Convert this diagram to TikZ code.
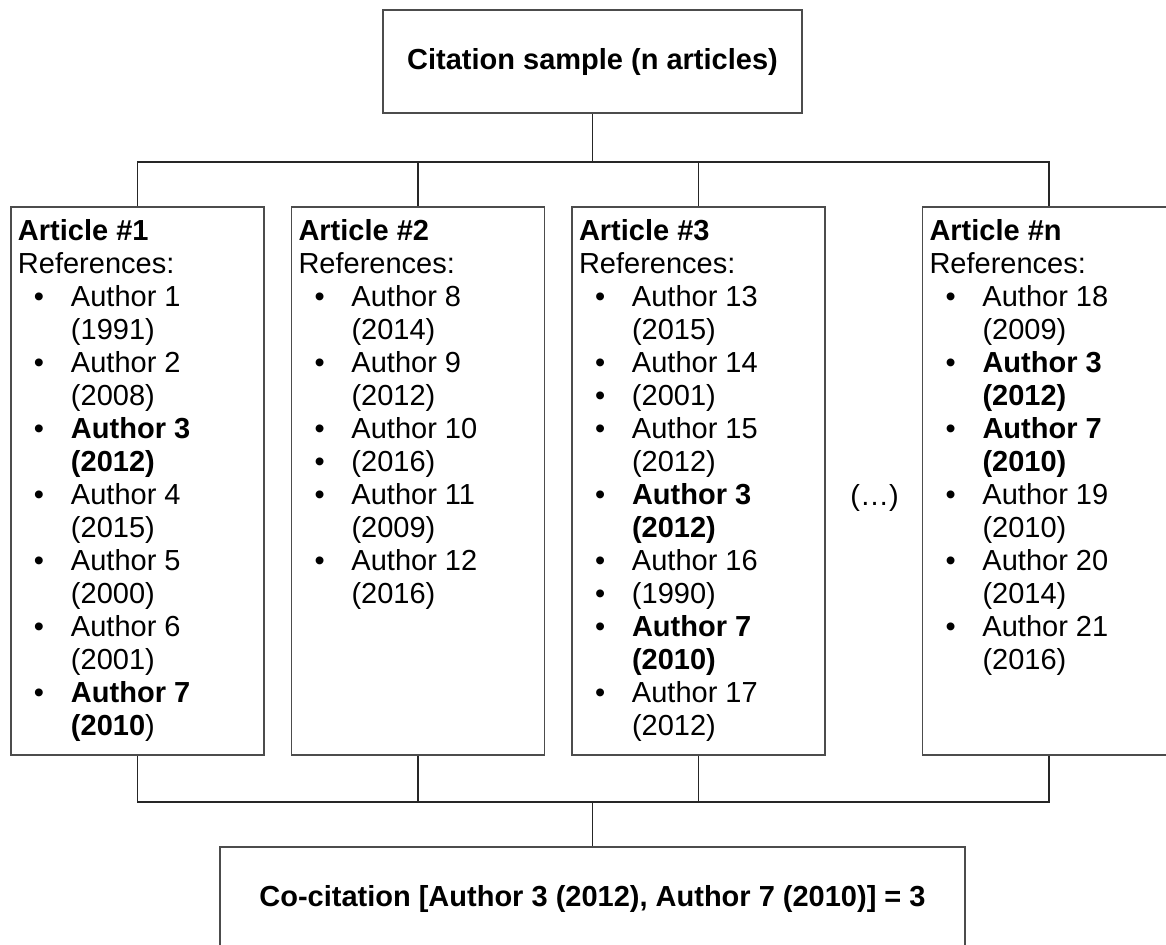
\documentclass[tikz,border=0pt]{standalone}
\usepackage{fontspec}
\setmainfont{Liberation Sans}
\usetikzlibrary{positioning}

% one line of a reference list: bulleted, or continued under the text
\newcommand\head[1]{\rule{0pt}{16.5pt}\textbf{#1}\par}
\newcommand\plain[1]{#1\par}
\newcommand\bul[1]{\makebox[26.5pt][l]{\hspace{8pt}\textbullet}#1\par}
\newcommand\cont[1]{\makebox[26.5pt][l]{}#1\par}

\tikzset{
    sumbox/.style={rectangle, draw=black!70, line width=0.8pt, align=center,
                   font=\fontsize{14.5}{16.5}\selectfont\bfseries},
    articlebox/.style={rectangle, draw=black!70, line width=0.8pt, inner xsep=3.5pt,
                       inner ysep=0pt, font=\fontsize{14.5}{16.5}\selectfont},
    link/.style={draw=black!85, line width=0.7pt},
}

\begin{document}
\begin{tikzpicture}[x=0.5pt, y=-0.5pt]
    \useasboundingbox (0,0) rectangle (1166,944);

    % ── Sample ─────────────────────────────────────────────────────
    \node[sumbox, minimum width=209.5pt, minimum height=51.5pt] (sample) at (592.5, 61.5)
        {Citation sample (n articles)};

    % ── Articles ───────────────────────────────────────────────────
    \node[articlebox] (a1) at (137.5, 481) {\parbox[c][274pt][t]{119.5pt}{%
        \head{Article \#1}
        \plain{References:}
        \bul{Author 1}
        \cont{(1991)}
        \bul{Author 2}
        \cont{(2008)}
        \bul{\textbf{Author 3}}
        \cont{\textbf{(2012)}}
        \bul{Author 4}
        \cont{(2015)}
        \bul{Author 5}
        \cont{(2000)}
        \bul{Author 6}
        \cont{(2001)}
        \bul{\textbf{Author 7}}
        \cont{\textbf{(2010})}}};

    \node[articlebox] (a2) at (418, 481) {\parbox[c][274pt][t]{119.5pt}{%
        \head{Article \#2}
        \plain{References:}
        \bul{Author 8}
        \cont{(2014)}
        \bul{Author 9}
        \cont{(2012)}
        \bul{Author 10}
        \bul{(2016)}
        \bul{Author 11}
        \cont{(2009)}
        \bul{Author 12}
        \cont{(2016)}}};

    \node[articlebox] (a3) at (698.5, 481) {\parbox[c][274pt][t]{119.5pt}{%
        \head{Article \#3}
        \plain{References:}
        \bul{Author 13}
        \cont{(2015)}
        \bul{Author 14}
        \bul{(2001)}
        \bul{Author 15}
        \cont{(2012)}
        \bul{\textbf{Author 3}}
        \cont{\textbf{(2012)}}
        \bul{Author 16}
        \bul{(1990)}
        \bul{\textbf{Author 7}}
        \cont{\textbf{(2010)}}
        \bul{Author 17}
        \cont{(2012)}}};

    \node[articlebox] (an) at (1049, 481) {\parbox[c][274pt][t]{119.5pt}{%
        \head{Article \#n}
        \plain{References:}
        \bul{Author 18}
        \cont{(2009)}
        \bul{\textbf{Author 3}}
        \cont{\textbf{(2012)}}
        \bul{\textbf{Author 7}}
        \cont{\textbf{(2010)}}
        \bul{Author 19}
        \cont{(2010)}
        \bul{Author 20}
        \cont{(2014)}
        \bul{Author 21}
        \cont{(2016)}}};

    \node[font=\fontsize{14.5}{16.5}\selectfont, anchor=base] (more) at (874.5, 505) {(…)};

    % ── Result ─────────────────────────────────────────────────────
    \node[sumbox, minimum width=372.5pt, minimum height=52pt] (cocit) at (592.5, 899)
        {Co-citation [Author 3 (2012), Author 7 (2010)] = 3};

    % ── Links ──────────────────────────────────────────────────────
    \coordinate (split) at (592.5, 162);
    \coordinate (merge) at (592.5, 802);

    \draw[link] (sample.south) -- (split);
    \draw[link] (split) -| (a1.north);
    \draw[link] (split) -| (a2.north);
    \draw[link] (split) -| (a3.north);
    \draw[link] (split) -| (an.north);

    \draw[link] (a1.south) |- (merge);
    \draw[link] (a2.south) |- (merge);
    \draw[link] (a3.south) |- (merge);
    \draw[link] (an.south) |- (merge);
    \draw[link] (merge) -- (cocit.north);

\end{tikzpicture}
\end{document}
